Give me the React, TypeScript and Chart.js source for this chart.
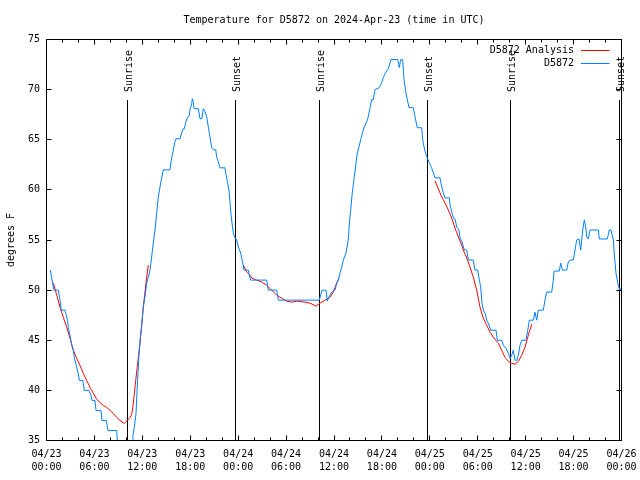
import React, { useEffect, useRef } from 'react';
import { Chart, registerables } from 'chart.js';

Chart.register(...registerables);

const MONO = '"DejaVu Sans Mono", "Liberation Mono", monospace';

const TITLE = 'Temperature for D5872 on 2024-Apr-23 (time in UTC)';
const Y_TITLE = 'degrees F';

// hours since 04/23 00:00 UTC
const xTickDates = ['04/23', '04/23', '04/23', '04/23', '04/24', '04/24', '04/24', '04/24', '04/25', '04/25', '04/25', '04/25', '04/26'];
const xTickTimes = ['00:00', '06:00', '12:00', '18:00', '00:00', '06:00', '12:00', '18:00', '00:00', '06:00', '12:00', '18:00', '00:00'];

const eventHours = [10.14, 23.67, 34.17, 47.71, 58.1, 71.75];
const eventLabels = ['Sunrise', 'Sunset', 'Sunrise', 'Sunset', 'Sunrise', 'Sunset'];

const analysisLabel = 'D5872 Analysis';
const observedLabel = 'D5872';

const obsHours = [
  0.48, 0.85, 0.94, 1.48, 1.69, 1.85, 2.32, 2.63, 2.73, 2.94,
  3.16, 3.36, 3.48, 3.78, 3.98, 4.11, 4.53, 4.61, 4.73, 5.32,
  5.57, 5.70, 6.07, 6.20, 6.82, 6.95, 7.49, 7.70, 8.79, 8.95,
  10.71, 10.83, 10.99, 11.21, 11.40, 11.58, 11.71, 11.92, 12.12, 12.33,
  12.55, 12.75, 12.96, 13.17, 13.37, 13.59, 13.80, 14.00, 14.30, 14.63,
  15.46, 15.59, 15.88, 16.09, 16.22, 16.72, 16.93, 17.13, 17.26, 17.43,
  17.63, 17.84, 17.97, 18.18, 18.26, 18.38, 18.47, 19.01, 19.22, 19.47,
  19.63, 19.85, 20.06, 20.26, 20.47, 20.69, 20.89, 21.19, 21.31, 21.51,
  21.73, 22.35, 22.48, 22.69, 22.89, 23.07, 23.23, 23.39, 23.60, 23.82,
  24.02, 24.32, 24.57, 24.73, 25.27, 25.39, 25.57, 27.57, 27.77, 28.83,
  29.03, 34.16, 34.50, 35.00, 35.16, 35.37, 35.71, 36.13, 36.34, 36.54,
  36.75, 36.97, 37.17, 37.50, 37.72, 37.82, 37.92, 38.09, 38.29, 38.54,
  38.76, 38.92, 39.13, 39.34, 39.60, 39.80, 40.10, 40.30, 40.51, 40.72,
  40.92, 41.14, 41.67, 41.97, 42.17, 42.47, 42.80, 43.14, 43.98, 44.18,
  44.35, 44.60, 44.77, 44.98, 45.18, 45.39, 45.93, 46.14, 46.43, 46.98,
  47.11, 47.27, 47.52, 47.73, 47.93, 48.23, 48.44, 48.65, 49.27, 49.49,
  49.69, 49.90, 50.44, 50.53, 50.74, 50.94, 51.15, 51.37, 51.65, 51.78,
  52.03, 52.32, 52.62, 52.82, 53.44, 53.66, 54.00, 54.20, 54.37, 54.53,
  54.70, 54.91, 55.12, 55.32, 55.62, 56.29, 56.45, 57.00, 57.20, 57.54,
  57.83, 58.04, 58.25, 58.45, 58.67, 58.88, 59.08, 59.29, 59.50, 60.04,
  60.26, 60.46, 60.96, 61.17, 61.38, 61.58, 62.21, 62.42, 62.63, 63.26,
  63.46, 63.55, 64.21, 64.39, 64.59, 65.14, 65.34, 65.55, 65.97, 66.18,
  66.39, 66.68, 66.89, 67.14, 67.34, 67.52, 67.64, 67.84, 68.06, 69.10,
  69.22, 70.22, 70.48, 70.69, 70.98, 71.10, 71.31, 71.53, 71.69, 71.81,
];

const obsTemps = [
  52, 50.3, 50, 50, 49, 48, 48, 47, 46.3, 45.5,
  44.5, 44, 43.3, 42.3, 41.7, 41, 41, 40.7, 40, 40,
  39.5, 39, 39, 38, 38, 37, 37, 36, 36, 34,
  34, 35.5, 36.3, 37.7, 41, 43.5, 45, 46.5, 48.3, 49.3,
  50.7, 51.3, 52, 53.3, 54.7, 56, 57.7, 59.3, 60.7, 62,
  62, 62.8, 64, 64.8, 65.1, 65.1, 65.7, 66.1, 66.1, 66.7,
  67.2, 67.3, 68, 68.6, 69.1, 68.8, 68.1, 68.1, 67.1, 67.1,
  68.1, 67.8, 67.3, 66.3, 65.3, 64.2, 64, 64, 63.3, 62.8,
  62.2, 62.2, 61.5, 60.7, 59.7, 57.8, 56.7, 55.7, 55.2, 55,
  54.3, 53.7, 52.7, 52, 52, 51.5, 51, 51, 50, 50,
  49, 49, 50, 50, 48.9, 49.3, 49.8, 50, 50.7, 51,
  51.7, 52.3, 53, 53.7, 54.7, 55.3, 56.7, 58, 59.7, 61.3,
  62.7, 63.7, 64.3, 65, 65.8, 66.3, 66.8, 67.3, 68.2, 69,
  69, 70, 70.2, 70.7, 71.2, 71.7, 72.1, 73, 73, 72.2,
  73, 73, 71, 69.8, 69, 68.2, 68.2, 67.3, 66.2, 66.2,
  65, 64.3, 63.5, 63.1, 62.7, 62.2, 61.7, 61.2, 61.2, 60.3,
  59.7, 59.2, 59.2, 58.5, 57.8, 57.2, 57.1, 56.3, 56, 55.2,
  54.8, 54, 54, 53, 53, 52, 52, 51, 50.3, 48.7,
  48, 47.7, 47, 46.7, 46, 46, 45, 45, 44.5, 44.2,
  43.7, 43.2, 43.5, 44, 43, 43, 43.5, 44.5, 45, 45,
  46, 47, 47, 47.8, 47, 48, 48, 49, 49.8, 49.8,
  51, 51.9, 51.9, 52.7, 52, 52, 52.8, 53, 53, 54,
  55, 55.1, 54, 56, 57, 56.3, 55.3, 55.1, 56, 56,
  55.1, 55.1, 56, 56, 55, 53.5, 51.7, 50.7, 50.2, 50,
];

const anaHours = [
  0.85, 1.25, 1.69, 2.10, 2.53, 2.94, 3.36, 3.78, 4.19, 4.61,
  5.03, 5.45, 5.86, 6.29, 6.70, 7.11, 7.54, 7.95, 8.36, 8.79,
  9.20, 9.74, 10.12, 10.46, 10.67, 10.87, 11.17, 11.42, 11.71, 11.92,
  12.12, 12.46, 12.75, 18.0, 24.64, 25.07, 25.48, 25.70, 26.32, 26.95,
  27.57, 28.20, 28.83, 29.45, 30.08, 30.70, 31.33, 32.37, 33.00, 33.75,
  34.25, 34.87, 35.50, 35.91, 36.34, 36.63, 42.0, 48.65, 49.06, 49.49,
  49.90, 50.31, 50.74, 51.15, 51.57, 51.99, 52.19, 52.62, 53.03, 53.44,
  53.87, 54.28, 54.70, 55.12, 55.54, 55.95, 56.58, 57.00, 57.41, 57.83,
  58.25, 58.67, 59.08, 59.50, 59.92, 60.33, 60.76,
];

const anaTemps = [
  50.7, 49.6, 48.3, 47.3, 46.3, 45.2, 44, 43.2, 42.5, 41.7,
  41, 40.3, 39.7, 39.1, 38.8, 38.5, 38.3, 38, 37.7, 37.3,
  37, 36.7, 37, 37.3, 37.6, 38.7, 41, 42.7, 44.7, 46.5,
  48.3, 50.7, 52.5, null, 52.5, 51.8, 51.5, 51.2, 51, 50.8,
  50.5, 50, 49.5, 49.2, 48.9, 48.8, 48.9, 48.8, 48.7, 48.4,
  48.7, 49, 49.3, 49.8, 50.7, 51.2, null, 60.9, 60.1, 59.3,
  58.7, 58, 57.2, 56.2, 55.3, 54.5, 54, 53.2, 52.3, 51.3,
  50, 48.3, 47.2, 46.5, 45.8, 45.3, 44.7, 44, 43.3, 42.9,
  42.7, 42.6, 42.9, 43.5, 44.3, 45.5, 46.6,
];

const decorPlugin = {
  id: 'decor',
  beforeDatasetsDraw(chart: any) {
    const { ctx, chartArea: a, scales } = chart;
    const x = scales.x;
    const yTop = Math.round(a.bottom - 0.85 * (a.bottom - a.top));
    ctx.save();
    ctx.strokeStyle = '#000';
    ctx.fillStyle = '#000';
    ctx.lineWidth = 1;
    ctx.font = `10px ${MONO}`;
    eventHours.forEach((h, i) => {
      const px = Math.floor(x.getPixelForValue(h)) + 0.5;
      ctx.beginPath();
      ctx.moveTo(px, yTop);
      ctx.lineTo(px, a.bottom);
      ctx.stroke();
      ctx.save();
      ctx.translate(px + 1.5, yTop - 8);
      ctx.rotate(-Math.PI / 2);
      ctx.textAlign = 'left';
      ctx.textBaseline = 'middle';
      ctx.fillText(eventLabels[i], 0, 0);
      ctx.restore();
    });
    ctx.restore();
  },
  afterDatasetsDraw(chart: any) {
    const { ctx, chartArea: a, scales } = chart;
    const x = scales.x;
    const y = scales.y;
    const L = Math.floor(a.left) + 0.5;
    const R = Math.floor(a.right) + 0.5;
    const T = Math.floor(a.top) + 0.5;
    const B = Math.floor(a.bottom) + 0.5;
    ctx.save();
    ctx.strokeStyle = '#000';
    ctx.lineWidth = 1;
    ctx.beginPath();
    // x ticks (major from scale, minor every 2 h)
    x.ticks.forEach((t: any) => {
      const px = Math.floor(x.getPixelForValue(t.value)) + 0.5;
      ctx.moveTo(px, B); ctx.lineTo(px, B - 5);
      ctx.moveTo(px, T); ctx.lineTo(px, T + 5);
    });
    for (let v = x.min; v <= x.max; v += 2) {
      if (v % 6 === 0) continue;
      const px = Math.floor(x.getPixelForValue(v)) + 0.5;
      ctx.moveTo(px, B); ctx.lineTo(px, B - 3);
      ctx.moveTo(px, T); ctx.lineTo(px, T + 3);
    }
    y.ticks.forEach((t: any) => {
      const py = Math.floor(y.getPixelForValue(t.value)) + 0.5;
      ctx.moveTo(L, py); ctx.lineTo(L + 5, py);
      ctx.moveTo(R, py); ctx.lineTo(R - 5, py);
    });
    ctx.stroke();
    ctx.strokeRect(L, T, R - L, B - T);

    // legend
    ctx.font = `10px ${MONO}`;
    ctx.textAlign = 'right';
    ctx.textBaseline = 'middle';
    ctx.fillStyle = '#000';
    chart.data.datasets.forEach((ds: any, i: number) => {
      const rowY = Math.floor(a.top + 11 + i * 13) + 0.5;
      ctx.fillText(ds.label, a.right - 47.5, rowY);
      ctx.strokeStyle = ds.borderColor;
      ctx.beginPath();
      ctx.moveTo(a.right - 40.5, rowY);
      ctx.lineTo(a.right - 12, rowY);
      ctx.stroke();
    });
    ctx.restore();
  },
};

export default function App() {
  const ref = useRef<HTMLCanvasElement>(null);
  useEffect(() => {
    const canvas = ref.current;
    if (!canvas) return;
    const font = { family: MONO, size: 10, weight: 'normal' as const };
    const chart = new Chart(canvas, {
      type: 'line',
      data: {
        datasets: [
          {
            label: analysisLabel,
            data: anaHours.map((h, i) => ({ x: h, y: anaTemps[i] })),
            borderColor: '#ff0000',
            borderWidth: 1,
            pointRadius: 0,
            tension: 0,
            spanGaps: false,
            order: 1,
          },
          {
            label: observedLabel,
            data: obsHours.map((h, i) => ({ x: h, y: obsTemps[i] })),
            borderColor: '#0080ff',
            borderWidth: 1,
            pointRadius: 0,
            tension: 0,
            order: 0,
          },
        ],
      },
      options: {
        responsive: false,
        animation: false,
        devicePixelRatio: 1,
        events: [],
        layout: { padding: { left: 0, right: 18.5, top: 0, bottom: 0 } },
        plugins: {
          legend: { display: false },
          tooltip: { enabled: false },
          title: {
            display: true,
            text: TITLE,
            fullSize: false,
            color: '#000',
            font: { ...font, lineHeight: 1.2 },
            padding: { top: 14, bottom: 13.5 },
          },
        },
        scales: {
          x: {
            type: 'linear',
            min: 0,
            max: 72,
            afterFit: (s: any) => { s.height = 39.5; },
            grid: { display: false, drawTicks: true, tickLength: 8 },
            border: { display: false },
            ticks: {
              stepSize: 6,
              autoSkip: false,
              maxRotation: 0,
              minRotation: 0,
              padding: 0,
              color: '#000',
              font: { ...font, lineHeight: 1.25 },
              callback: (_v: any, i: number) => [xTickDates[i], xTickTimes[i]],
            },
          },
          y: {
            type: 'linear',
            min: 35,
            max: 75,
            afterFit: (s: any) => { s.width = 46.5; },
            grid: { display: false, drawTicks: false },
            border: { display: false },
            ticks: { stepSize: 5, padding: 6.5, color: '#000', font },
            title: {
              display: true,
              text: Y_TITLE,
              color: '#000',
              font: { ...font, lineHeight: 1.2 },
              padding: { top: 5, bottom: 0 },
            },
          },
        },
      },
      plugins: [decorPlugin],
    } as any);
    return () => chart.destroy();
  }, []);
  return (
    <div style={{ position: 'absolute', left: 0, top: 0, width: 640, height: 480, background: '#fff' }}>
      <canvas ref={ref} width={640} height={480} style={{ display: 'block', width: 640, height: 480 }} />
    </div>
  );
}
